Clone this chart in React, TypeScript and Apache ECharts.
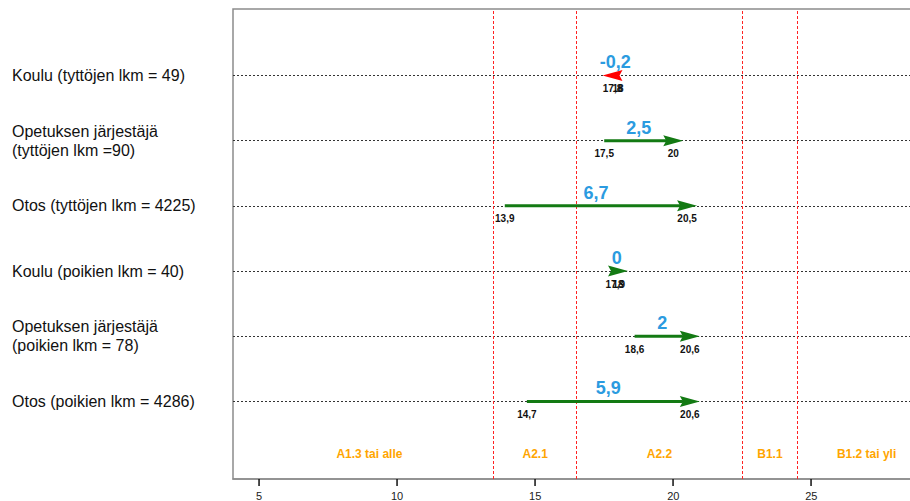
import React, { useEffect, useRef } from "react";
import * as echarts from "echarts";

const rowLabels = [
  "Koulu (tyttöjen lkm = 49)",
  "Opetuksen järjestäjä\n(tyttöjen lkm =90)",
  "Otos (tyttöjen lkm = 4225)",
  "Koulu (poikien lkm = 40)",
  "Opetuksen järjestäjä\n(poikien lkm = 78)",
  "Otos (poikien lkm = 4286)",
];
const rowPositions = [6, 5, 4, 3, 2, 1];
const startValues = [18, 17.5, 13.9, 17.9, 18.6, 14.7];
const endValues = [17.8, 20, 20.5, 18, 20.6, 20.6];
const changeValues = [-0.2, 2.5, 6.7, 0, 2, 5.9];
const levelBoundaries = [13.5, 16.5, 22.5, 24.5];
const levelNames = ["A1.3 tai alle", "A2.1", "A2.2", "B1.1", "B1.2 tai yli"];
const levelLabelX = [9, 15, 19.5, 23.5, 27];
const levelLabelY = 0.2;
const xTicks = [5, 10, 15, 20, 25];

const X_MIN = 4.06;
const X_MAX = 29.44;
const Y_MIN = -0.19;
const Y_MAX = 7.02;

const FONT = '"Liberation Sans", Arial, sans-serif';
const fmt = (v: number) => String(v).replace(".", ",");

export default function App() {
  const ref = useRef<HTMLDivElement>(null);
  useEffect(() => {
    if (!ref.current) return;
    const chart = echarts.init(ref.current, undefined, { renderer: "svg" });
    const arrowData = rowPositions.map((r, i) => [startValues[i], endValues[i], r, changeValues[i]]);
    const levelData = levelNames.map((n, i) => [levelLabelX[i], levelLabelY, n]);
    const option: any = {
      animation: false,
      backgroundColor: "#ffffff",
      grid: {
        left: 233,
        top: 9,
        right: 0,
        bottom: 20,
        show: true,
        borderColor: "#8c8c8c",
        borderWidth: 1.5,
        backgroundColor: "transparent",
      },
      xAxis: {
        type: "value",
        min: X_MIN,
        max: X_MAX,
        axisLine: { show: true, onZero: false, lineStyle: { color: "#8c8c8c", width: 1.5 } },
        splitLine: { show: false },
        axisTick: { show: false },
        axisLabel: {
          customValues: xTicks,
          fontFamily: FONT,
          fontSize: 11,
          color: "#222",
          margin: 11,
        },
      },
      yAxis: {
        type: "value",
        min: Y_MIN,
        max: Y_MAX,
        axisLine: { show: false, onZero: false },
        axisTick: { show: false },
        splitLine: { show: false },
        axisLabel: {
          customValues: rowPositions,
          formatter: (v: number) => {
            const i = rowPositions.indexOf(Math.round(v));
            return i >= 0 ? rowLabels[i] : "";
          },
          align: "left",
          margin: 221,
          fontFamily: FONT,
          fontSize: 16,
          lineHeight: 19,
          color: "#111",
        },
      },
      series: [
        {
          type: "custom",
          silent: true,
          data: arrowData,
          encode: { x: [0, 1], y: 2 },
          renderItem: (params: any, api: any) => {
            const s = api.value(0);
            const e = api.value(1);
            const r = api.value(2);
            const d = api.value(3);
            const p0 = api.coord([s, r]);
            const p1 = api.coord([e, r]);
            const y = p0[1];
            const dir = e >= s ? 1 : -1;
            const tip = p1[0] + dir * 10;
            const base = tip - dir * 20;
            const color = d < 0 ? "#ff0000" : "#137a13";
            const children: any[] = [];
            if (dir * (base - p0[0]) > 0) {
              children.push({
                type: "line",
                shape: { x1: p0[0], y1: y, x2: base + dir * 3, y2: y },
                style: { stroke: color, lineWidth: 3 },
              });
            }
            children.push({
              type: "polygon",
              shape: { points: [[tip, y], [base, y - 5.5], [base + dir * 3, y], [base, y + 5.5]] },
              style: { fill: color },
            });
            children.push({
              type: "text",
              x: p0[0],
              y: y + 8,
              style: { text: fmt(s), font: `bold 10px ${FONT}`, fill: "#111", align: "center", verticalAlign: "top" },
            });
            children.push({
              type: "text",
              x: p1[0],
              y: y + 8,
              style: { text: fmt(e), font: `bold 10px ${FONT}`, fill: "#111", align: "center", verticalAlign: "top" },
            });
            children.push({
              type: "text",
              x: (p0[0] + p1[0]) / 2,
              y: y - 13,
              style: { text: fmt(d), font: `bold 18px ${FONT}`, fill: "#2b9be0", align: "center", verticalAlign: "middle" },
            });
            return { type: "group", children };
          },
          markLine: {
            silent: true,
            symbol: ["none", "none"],
            label: { show: false },
            data: [
              ...rowPositions.map((v) => ({ yAxis: v, lineStyle: { color: "#333", width: 1, type: [2, 2] } })),
              ...levelBoundaries.map((v) => ({ xAxis: v, lineStyle: { color: "#ff2222", width: 1, type: [3, 2] } })),
            ],
          },
          z: 5,
        },
        {
          type: "custom",
          silent: true,
          data: levelData,
          encode: { x: 0, y: 1 },
          renderItem: (params: any, api: any) => {
            const p = api.coord([api.value(0), api.value(1)]);
            return {
              type: "text",
              x: p[0],
              y: p[1],
              style: {
                text: levelNames[params.dataIndex],
                font: `bold 12px ${FONT}`,
                fill: "#ffa500",
                align: "center",
                verticalAlign: "middle",
              },
            };
          },
        },
      ],
    };
    chart.setOption(option);
    const tickLines = xTicks.map((v) => {
      const p = chart.convertToPixel({ gridIndex: 0 }, [v, Y_MIN]) as number[];
      return {
        type: "rect",
        silent: true,
        z: 100,
        shape: { x: Math.round(p[0]) - 0.7, y: p[1], width: 1.5, height: 7 },
        style: { fill: "#111" },
      };
    });
    chart.setOption({ graphic: { elements: tickLines } });
    return () => chart.dispose();
  }, []);
  return (
    <div style={{ position: "fixed", left: 0, top: 0, width: 910, height: 501, overflow: "hidden", background: "#fff" }}>
      <div ref={ref} style={{ width: 934, height: 501 }} />
    </div>
  );
}
